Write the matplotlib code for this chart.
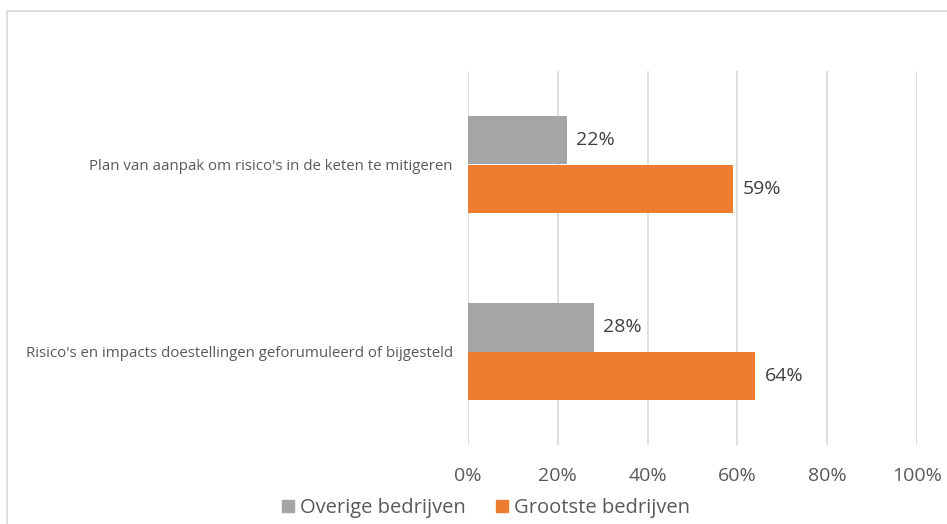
import matplotlib.pyplot as plt
from matplotlib.patches import Rectangle, Patch

# Daten
categories = ["Plan van aanpak om risico's in de keten te mitigeren",
              "Risico's en impacts doestellingen geforumuleerd of bijgesteld"]
overige = [22, 28]
grootste = [59, 64]
series_names = ["Overige bedrijven", "Grootste bedrijven"]
xticks = [0, 20, 40, 60, 80, 100]

GRAY = "#A5A5A5"
ORANGE = "#ED7D31"
TEXT = "#595959"

plt.rcParams['font.family'] = ['Open Sans', 'DejaVu Sans']

fig = plt.figure(figsize=(9.47, 5.24), dpi=100)
ax = fig.add_axes([468 / 947, 1 - 445 / 524, (917 - 468) / 947, (445 - 71) / 524])

# Rahmen des Diagrammbereichs
fig.patches.append(Rectangle((7 / 947, -0.2), 2, 1.2 - 11 / 524, transform=fig.transFigure,
                             fill=False, edgecolor="#D9D9D9", linewidth=1.2, zorder=0))

h = 0.262
pos = list(range(len(categories)))
b1 = ax.barh([p - h / 2 for p in pos], overige, height=h, color=GRAY, zorder=3)
b2 = ax.barh([p + h / 2 for p in pos], grootste, height=h, color=ORANGE, zorder=3)

for bars in (b1, b2):
    for bar in bars:
        w = bar.get_width()
        ax.text(w + 2.1, bar.get_y() + bar.get_height() / 2, f"{w:.0f}%",
                va='center', ha='left', fontsize=14, color="#404040")

ax.set_xlim(0, 100)
ax.set_ylim(1.5, -0.5)
ax.set_xticks(xticks)
ax.set_xticklabels([f"{t}%" for t in xticks], fontsize=14, color=TEXT)
ax.set_yticks(pos)
ax.set_yticklabels(categories, fontsize=10.8, color=TEXT)
ax.tick_params(axis='x', length=0, pad=16)
ax.tick_params(axis='y', length=0, pad=11)
ax.grid(axis='x', color="#D9D9D9", linewidth=1.2, zorder=0)
for s in ax.spines.values():
    s.set_visible(False)

handles = [Patch(color=GRAY), Patch(color=ORANGE)]
fig.legend(handles, series_names, loc='center', bbox_to_anchor=(486 / 947, 1 - 508 / 524),
           ncol=2, frameon=False, fontsize=14.5, labelcolor=TEXT,
           handlelength=0.6, handleheight=0.6, handletextpad=0.3, columnspacing=1.5)

plt.savefig("out.png", dpi=100)
